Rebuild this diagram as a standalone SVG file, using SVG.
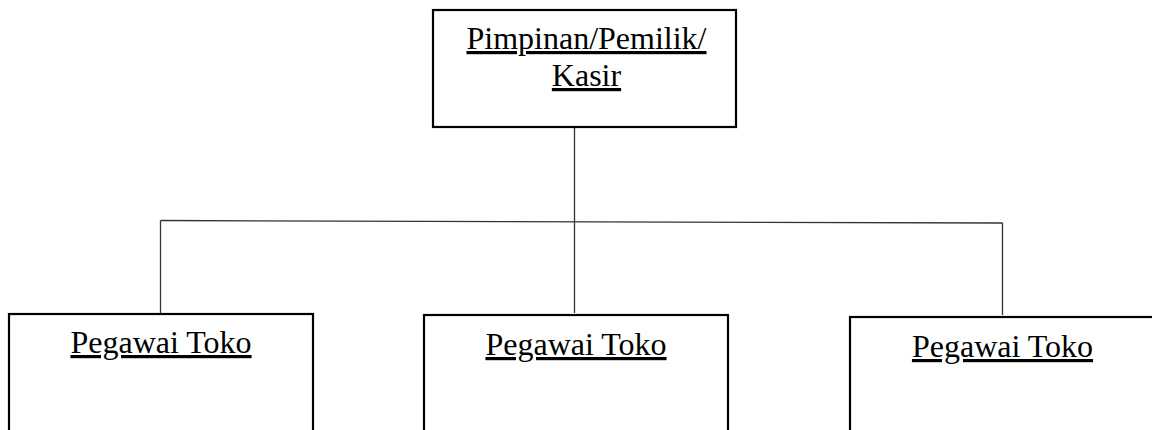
<svg xmlns="http://www.w3.org/2000/svg" width="1152" height="430" viewBox="0 0 1152 430">
<style>
.box{fill:#fff;stroke:#000;stroke-width:2.2}
.lbl{font-family:"Liberation Serif","Times New Roman",serif;font-size:32px;fill:#000;text-anchor:middle;text-decoration:underline}
.con{stroke:#333;stroke-width:1.3;fill:none}
</style>
<rect width="1152" height="430" fill="#fff"/>
<g id="connectors">
<line class="con" x1="574.5" y1="127" x2="574.5" y2="313"/>
<line class="con" x1="160.5" y1="220.5" x2="1002.5" y2="223"/>
<line class="con" x1="160.5" y1="220.5" x2="160.5" y2="313"/>
<line class="con" x1="1002.5" y1="223" x2="1002.5" y2="315"/>
</g>
<g id="node-pimpinan">
<rect class="box" x="433" y="10" width="303" height="117"/>
<text class="lbl" x="586.5" y="49">Pimpinan/Pemilik/</text>
<text class="lbl" x="586.5" y="86">Kasir</text>
</g>
<g id="node-pegawai1">
<rect class="box" x="9" y="314" width="304" height="130"/>
<text class="lbl" x="161" y="353">Pegawai Toko</text>
</g>
<g id="node-pegawai2">
<rect class="box" x="424" y="315" width="304" height="130"/>
<text class="lbl" x="576" y="355">Pegawai Toko</text>
</g>
<g id="node-pegawai3">
<rect class="box" x="850" y="317" width="320" height="130"/>
<text class="lbl" x="1002.5" y="357">Pegawai Toko</text>
</g>
</svg>
